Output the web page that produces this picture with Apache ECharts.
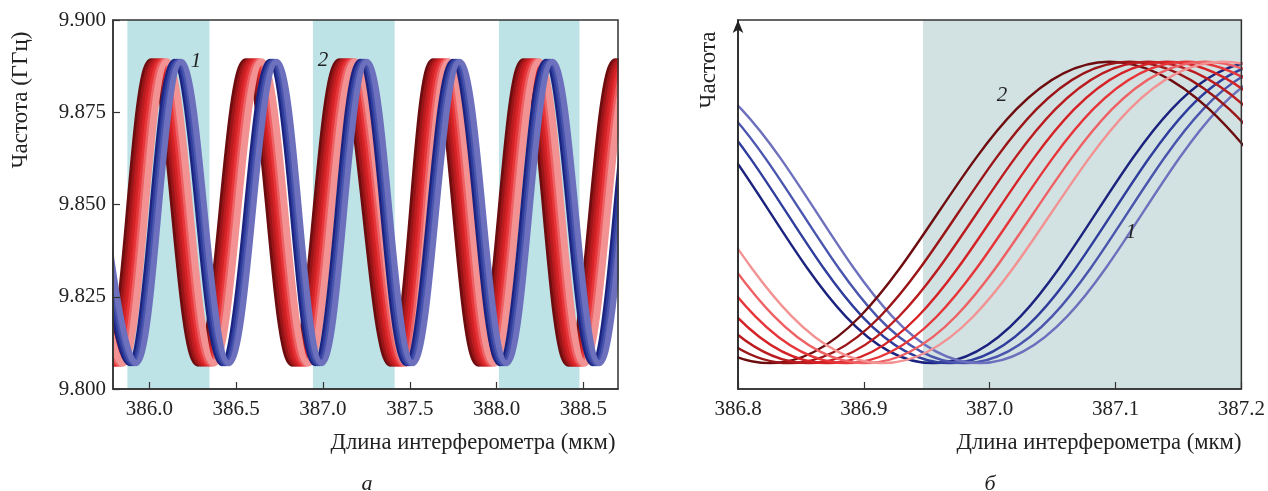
<!DOCTYPE html>
<html>
<head>
<meta charset="utf-8">
<script src="https://cdn.jsdelivr.net/npm/echarts@6.0.0/dist/echarts.min.js"></script>
<style>
  html, body { margin: 0; padding: 0; background: #fff; }
  #main { width: 1268px; height: 491px; }
</style>
</head>
<body>
<div id="main"></div>
<script>
/* частота интерферометра: две группы кривых (1 - синие, 2 - красные) */

// уровни максимума и минимума кривых (ГГц)
var peakLevel = 9.8887;
var troughLevel = 9.807;

// положения экстремумов первой (самой тёмной) кривой, мкм: макс, мин, макс, мин ...
var redExtremes = [385.475, 385.755, 386.01, 386.28, 386.555, 386.825, 387.095, 387.39,
                   387.635, 387.895, 388.155, 388.415, 388.685, 388.955];
var blueExtremes = [385.61, 385.885, 386.145, 386.42, 386.695, 386.955, 387.215, 387.48,
                    387.75, 388.02, 388.285, 388.555, 388.82, 389.09];

// сдвиг каждой кривой группы относительно первой, мкм
var redShift = [0, 0.016, 0.031, 0.046, 0.061, 0.076, 0.09];
var blueShift = [0, 0.013, 0.025, 0.037];

var redColors = ['#6e0d10', '#9a1518', '#bb1c1f', '#d42226', '#e6363a', '#ee6164', '#f29292'];
var blueColors = ['#1b237f', '#2f3d9c', '#4a55ad', '#6c70bd'];

// закрашенные полосы
var bandsA = [[385.873, 386.346], [386.942, 387.413], [388.014, 388.478]];
var bandsB = [[386.947, 387.2]];

// подписи делений
var ticksA = [386.0, 386.5, 387.0, 387.5, 388.0, 388.5];

var serif = 'Liberation Serif';

function curve(ext, shift) {
    return ext.map(function (x, i) {
        return [x + shift, i % 2 === 0 ? peakLevel : troughLevel];
    });
}

var myChart = echarts.init(document.getElementById('main'));

var series = [];

// полосы
series.push({
    type: 'line', xAxisIndex: 0, yAxisIndex: 0, data: [], z: 1,
    markArea: {
        silent: true,
        itemStyle: { color: '#bde3e6' },
        data: bandsA.map(function (b) { return [{ xAxis: b[0] }, { xAxis: b[1] }]; })
    }
});
series.push({
    type: 'line', xAxisIndex: 1, yAxisIndex: 1, data: [], z: 1,
    markArea: {
        silent: true,
        itemStyle: { color: '#d2e1e1' },
        data: bandsB.map(function (b) { return [{ xAxis: b[0] }, { xAxis: b[1] }]; })
    }
});

// панель а: толстые линии, синие поверх красных
redShift.forEach(function (s, i) {
    series.push({
        type: 'line', xAxisIndex: 0, yAxisIndex: 0, z: 2,
        data: curve(redExtremes, s), smooth: 0.4, symbol: 'none',
        lineStyle: { color: redColors[i], width: 7 }
    });
});
blueShift.forEach(function (s, i) {
    series.push({
        type: 'line', xAxisIndex: 0, yAxisIndex: 0, z: 2,
        data: curve(blueExtremes, s), smooth: 0.4, symbol: 'none',
        lineStyle: { color: blueColors[i], width: 6 }
    });
});

// панель б: тонкие линии
blueShift.forEach(function (s, i) {
    series.push({
        type: 'line', xAxisIndex: 1, yAxisIndex: 1, z: 2,
        data: curve(blueExtremes, s), smooth: 0.4, symbol: 'none',
        lineStyle: { color: blueColors[i], width: 2.4 }
    });
});
redShift.forEach(function (s, i) {
    series.push({
        type: 'line', xAxisIndex: 1, yAxisIndex: 1, z: 2,
        data: curve(redExtremes, s), smooth: 0.4, symbol: 'none',
        lineStyle: { color: redColors[i], width: 2.4 }
    });
});

var axisLine = { lineStyle: { color: '#333', width: 1.5 } };
var labelStyle = { color: '#222', fontFamily: serif, fontSize: 21 };

function txt(x, y, text, font, rot) {
    return { type: 'text', x: x, y: y, rotation: rot || 0, z: 10,
        style: { text: text, font: font, fill: '#222', align: 'center', verticalAlign: 'middle' } };
}
// белые поля за рамкой: линия обрезается чуть шире области графика
function cover(x, w) {
    return { type: 'rect', z: 4, silent: true, shape: { x: x, y: 8, width: w, height: 390 },
        style: { fill: '#fff' } };
}

var option = {
    animation: false,
    grid: [
        { left: 113, top: 20, width: 505, height: 369, show: true, borderColor: '#333', borderWidth: 1.5, z: 5 },
        { left: 738, top: 20, width: 505, height: 369, show: true, borderColor: '#333', borderWidth: 1.5, z: 5 }
    ],
    xAxis: [
        {
            gridIndex: 0, type: 'value', min: 385.79, max: 388.70, z: 6,
            axisLine: axisLine,
            axisTick: { inside: true, length: 7, customValues: ticksA, lineStyle: { color: '#333', width: 1.2 } },
            axisLabel: Object.assign({ margin: 10, customValues: ticksA,
                formatter: function (v) { return v.toFixed(1); } }, labelStyle),
            splitLine: { show: false }
        },
        {
            gridIndex: 1, type: 'value', min: 386.8, max: 387.2, interval: 0.1, z: 6,
            axisLine: axisLine,
            axisTick: { inside: true, length: 7, lineStyle: { color: '#333', width: 1.2 } },
            axisLabel: Object.assign({ margin: 10,
                formatter: function (v) { return v.toFixed(1); } }, labelStyle),
            splitLine: { show: false }
        }
    ],
    yAxis: [
        {
            gridIndex: 0, type: 'value', min: 9.8, max: 9.9, interval: 0.025, z: 6,
            axisLine: axisLine,
            axisTick: { inside: true, length: 7, lineStyle: { color: '#333', width: 1.2 } },
            axisLabel: Object.assign({ margin: 7,
                formatter: function (v) { return v.toFixed(3); } }, labelStyle),
            splitLine: { show: false }
        },
        {
            gridIndex: 1, type: 'value', min: 9.8, max: 9.9, z: 6,
            axisLine: { show: true, symbol: ['none', 'arrow'], symbolSize: [8, 13], symbolOffset: [0, 0],
                lineStyle: { color: '#222', width: 1.5 } },
            axisTick: { show: false },
            axisLabel: { show: false },
            splitLine: { show: false }
        }
    ],
    graphic: [
        cover(106.5, 5.8), cover(618.8, 9),
        cover(731, 6.3), cover(1243.8, 8),
        txt(21, 100, 'Частота (ГГц)', '23px ' + serif, Math.PI / 2),
        txt(709, 70, 'Частота', '23px ' + serif, Math.PI / 2),
        txt(473, 443, 'Длина интерферометра (мкм)', '22.6px ' + serif),
        txt(1099, 443, 'Длина интерферометра (мкм)', '22.6px ' + serif),
        txt(367, 484, 'а', 'italic 22px ' + serif),
        txt(990, 484, 'б', 'italic 22px ' + serif),
        txt(196, 61, '1', 'italic 21px ' + serif),
        txt(323, 60, '2', 'italic 21px ' + serif),
        txt(1002, 95, '2', 'italic 21px ' + serif),
        txt(1131, 232, '1', 'italic 21px ' + serif)
    ],
    series: series
};

myChart.setOption(option);
</script>
</body>
</html>
